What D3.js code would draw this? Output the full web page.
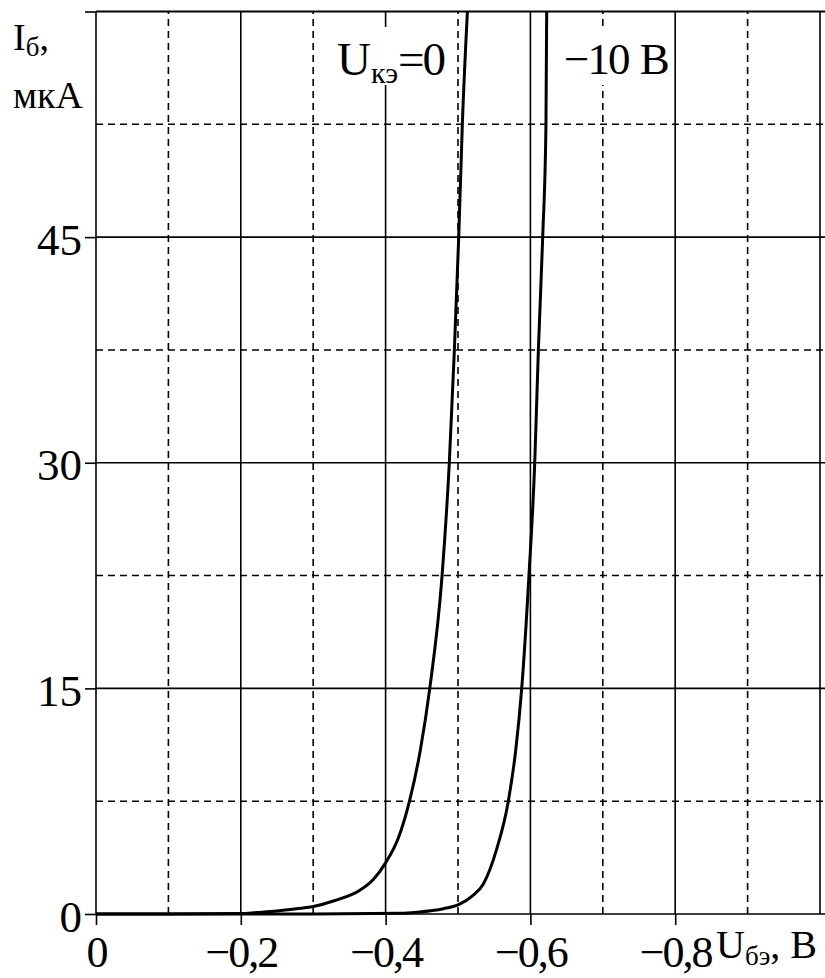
<!DOCTYPE html>
<html>
<head>
<meta charset="utf-8">
<script src="https://cdn.jsdelivr.net/npm/d3@7"></script>
<style>
  body { margin: 0; background: #fff; }
  svg { display: block; }
  text { font-family: "Liberation Serif", "Times New Roman", serif; fill: #000; }
</style>
</head>
<body>
<div id="chart"></div>
<script>
"use strict";

// Input characteristic, Ube in V (negative), Ib in uA.
// Curve for U_ke = 0.
const ube_ke0 = [0, -0.1, -0.2, -0.222, -0.25, -0.277, -0.3, -0.33, -0.365, -0.383, -0.4, -0.418, -0.433, -0.448, -0.461, -0.478, -0.488, -0.495, -0.501, -0.506, -0.513];
const ib_ke0  = [0, 0, 0.03, 0.1, 0.2, 0.35, 0.5, 0.9, 1.6, 2.3, 3.4, 5.1, 7.5, 10.9, 15, 22.5, 30, 37.5, 45, 52.5, 60];

// Curve for U_ke = -10 V.
const ube_ke10 = [0, -0.3, -0.42, -0.443, -0.48, -0.5, -0.52, -0.535, -0.553, -0.5695, -0.58, -0.588, -0.598, -0.606, -0.611, -0.617, -0.6215, -0.6225];
const ib_ke10  = [0, 0, 0.05, 0.12, 0.35, 0.6, 1.2, 2.0, 4.25, 7.5, 11, 15, 22.5, 30, 37.5, 45, 52.5, 60];

const x_major = [0, -0.2, -0.4, -0.6, -0.8, -1.0];
const x_minor = [-0.1, -0.3, -0.5, -0.7, -0.9];
const x_labels = ["0", "\u22120,2", "\u22120,4", "\u22120,6", "\u22120,8"];
const y_major = [0, 15, 30, 45, 60];
const y_minor = [7.5, 22.5, 37.5, 52.5];
const y_labels = ["0", "15", "30", "45"];

const width = 825;
const height = 978;

let svg = d3.select("#chart")
  .append("svg")
  .attr("width", width)
  .attr("height", height);

let x = d3.scaleLinear().domain([0, -1.0]).range([96, 820]);
let y = d3.scaleLinear().domain([0, 60]).range([914, 11.5]);

// Grid: solid lines on the major ticks, dashed on the minor ones.
let grid = svg.append("g").attr("stroke", "#000").attr("fill", "none");

grid.selectAll("line.vmajor")
  .data(x_major)
  .enter().append("line")
  .attr("class", "vmajor")
  .attr("x1", d => x(d)).attr("x2", d => x(d))
  .attr("y1", y(0)).attr("y2", y(60))
  .attr("stroke-width", 1.6);

grid.selectAll("line.vminor")
  .data(x_minor)
  .enter().append("line")
  .attr("class", "vminor")
  .attr("x1", d => x(d)).attr("x2", d => x(d))
  .attr("y1", y(0)).attr("y2", y(60))
  .attr("stroke-width", 1.6)
  .attr("stroke-dasharray", "7,5");

grid.selectAll("line.hmajor")
  .data(y_major)
  .enter().append("line")
  .attr("class", "hmajor")
  .attr("x1", x(0)).attr("x2", width)
  .attr("y1", d => y(d)).attr("y2", d => y(d))
  .attr("stroke-width", d => d == 60 ? 2.2 : 1.6);

grid.selectAll("line.hminor")
  .data(y_minor)
  .enter().append("line")
  .attr("class", "hminor")
  .attr("x1", x(0)).attr("x2", width)
  .attr("y1", d => y(d)).attr("y2", d => y(d))
  .attr("stroke-width", 1.6)
  .attr("stroke-dasharray", "7,5");

// Axes only give the short outside ticks and the numbers.
let xAxis = d3.axisBottom(x)
  .tickValues(x_major.slice(0, x_labels.length))
  .tickFormat((d, i) => x_labels[i])
  .tickSize(11);

let yAxis = d3.axisLeft(y)
  .tickValues(y_major)
  .tickFormat((d, i) => y_labels[i] || "")
  .tickSize(11);

let gx = svg.append("g").attr("transform", `translate(0,${y(0)})`).call(xAxis);
let gy = svg.append("g").attr("transform", `translate(${x(0)},0)`).call(yAxis);

[gx, gy].forEach(g => {
  g.attr("font-family", null).attr("font-size", null);
  g.select(".domain").remove();
  g.selectAll(".tick line").attr("stroke", "#000").attr("stroke-width", 1.6);
});

gx.selectAll(".tick text")
  .attr("y", 53)
  .attr("dy", null)
  .style("font-size", "44px")
  .style("letter-spacing", "-2px");

gy.selectAll(".tick text")
  .attr("x", -14)
  .attr("dy", null)
  .attr("y", 17)
  .style("font-size", "45px");

// Curve labels, drawn on white boxes that break the grid behind them.
function label(xp, yp, parts) {
  let g = svg.append("g");
  let box = g.append("rect").attr("fill", "#fff");
  let t = g.append("text").attr("x", xp).attr("y", yp);
  parts.forEach(p => {
    t.append("tspan")
      .attr("dy", p.dy || 0)
      .style("font-size", p.size + "px")
      .style("letter-spacing", p.ls || null)
      .text(p.text);
  });
  return { g: g, box: box, text: t };
}

let l0 = label(337, 75, [
  { text: "U", size: 47 },
  { text: "кэ", size: 30, dy: 8 },
  { text: "=0", size: 47, dy: -8, ls: "-2px" }
]);
let l10 = label(564, 74, [
  { text: "\u221210", size: 45, ls: "-2px" },
  { text: " B", size: 45 }
]);
[l0, l10].forEach(l => {
  let b = l.text.node().getBBox();
  l.box.attr("x", b.x - 2).attr("width", b.width + 4)
    .attr("y", 27).attr("height", 58);
});

// Axis titles.
let yTitle = svg.append("text").attr("x", 13).attr("y", 50).style("font-size", "38px");
yTitle.append("tspan").text("I");
yTitle.append("tspan").attr("dy", 6).style("font-size", "27px").text("б");
yTitle.append("tspan").attr("dy", -6).text(",");

svg.append("text").attr("x", 13).attr("y", 108).style("font-size", "38px").text("мкА");

let xTitle = svg.append("text").attr("x", 716).attr("y", 958).style("font-size", "40px");
xTitle.append("tspan").text("U");
xTitle.append("tspan").attr("dy", 7).style("font-size", "27px").text("бэ");
xTitle.append("tspan").attr("dy", -7).text(", B");

// The two characteristics.
let line = d3.line()
  .x(d => x(d[0]))
  .y(d => y(d[1]))
  .curve(d3.curveMonotoneX);

let curves = [d3.zip(ube_ke0, ib_ke0), d3.zip(ube_ke10, ib_ke10)];

svg.selectAll("path.curve")
  .data(curves)
  .enter().append("path")
  .attr("class", "curve")
  .attr("d", line)
  .attr("fill", "none")
  .attr("stroke", "#000")
  .attr("stroke-width", 3)
  .attr("stroke-linejoin", "round");
</script>
</body>
</html>
